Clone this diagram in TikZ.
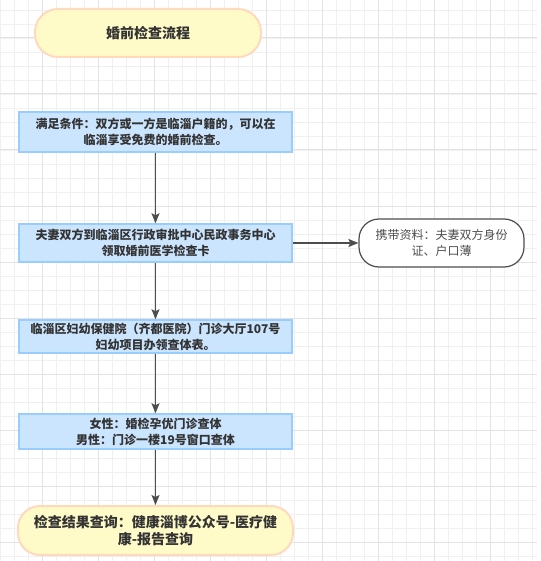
\documentclass[tikz,border=0pt]{standalone}
\usepackage{fontspec}
\setmainfont{Noto Sans CJK SC}
\usetikzlibrary{arrows.meta}
\definecolor{minorc}{HTML}{F0F0F0}
\definecolor{majorc}{HTML}{E3E3E3}
\definecolor{bluefill}{HTML}{CCE5FF}
\definecolor{bluestroke}{HTML}{99CCFF}
\definecolor{yfill}{HTML}{FFFBC8}
\definecolor{ystroke}{HTML}{FFD9BE}
\definecolor{txt}{HTML}{333333}
\definecolor{arr}{HTML}{4D4D4D}
\begin{document}
\begin{tikzpicture}[x=1pt,y=-1pt,
  minorgrid/.style={minorc,line width=0.8pt},
  majorgrid/.style={majorc,line width=1pt},
  bluebox/.style={draw=bluestroke,fill=bluefill,line width=1.5pt,inner sep=0pt,align=center,text=txt,font=\fontsize{12}{16}\selectfont\bfseries},
  pill/.style={draw=ystroke,fill=yfill,line width=2pt,inner sep=0pt,align=center,text=txt,font=\fontsize{14}{17}\selectfont\bfseries},
  sidebox/.style={draw=arr,fill=white,line width=1.2pt,inner sep=0pt,align=center,text=arr,rounded corners=20pt,font=\fontsize{12}{16}\selectfont},
  flow/.style={draw=arr,line width=1.5pt,-{Stealth[length=10pt,width=8pt,inset=2pt]}}]
\useasboundingbox (0,0) rectangle (540,561);
\fill[white] (0,0) rectangle (540,561);
\foreach \x in {0.3,14.3,...,537} \draw[minorgrid] (\x,0) -- (\x,561);
\foreach \y in {10,24,...,561} \draw[minorgrid] (0,\y) -- (537,\y);
\foreach \x in {42.3,98.3,...,537} \draw[majorgrid] (\x,0) -- (\x,561);
\foreach \y in {38,94,...,561} \draw[majorgrid] (0,\y) -- (537,\y);

\node[pill,rounded corners=23pt,minimum width=226pt,minimum height=48pt] (title) at (148,33) {婚前检查流程};
\node[bluebox,minimum width=273pt,minimum height=40pt] (b1) at (155.5,132) {满足条件：双方或一方是临淄户籍的，可以在\\临淄享受免费的婚前检查。};
\node[bluebox,minimum width=273pt,minimum height=38pt] (b2) at (155.5,243) {夫妻双方到临淄区行政审批中心民政事务中心\\领取婚前医学检查卡};
\node[sidebox,minimum width=165pt,minimum height=48pt] (side) at (441.5,243) {携带资料：夫妻双方身份\\证、户口薄};
\node[bluebox,minimum width=273pt,minimum height=33pt] (b3) at (155.5,336.5) {临淄区妇幼保健院（齐都医院）门诊大厅107号\\妇幼项目办领查体表。};
\node[bluebox,minimum width=273pt,minimum height=35pt] (b4) at (155.5,431.5) {女性：婚检孕优门诊查体\\男性：门诊一楼19号窗口查体};
\node[pill,rounded corners=22pt,minimum width=275pt,minimum height=49pt] (fin) at (155.5,530.5) {检查结果查询：健康淄博公众号-医疗健\\康-报告查询};

\draw[flow] (b1) -- (b2);
\draw[flow] (b2.east) -- (side.west);
\draw[flow] (b2) -- (b3);
\draw[flow] (b3) -- (b4);
\draw[flow] (b4) -- (fin);
\end{tikzpicture}
\end{document}
